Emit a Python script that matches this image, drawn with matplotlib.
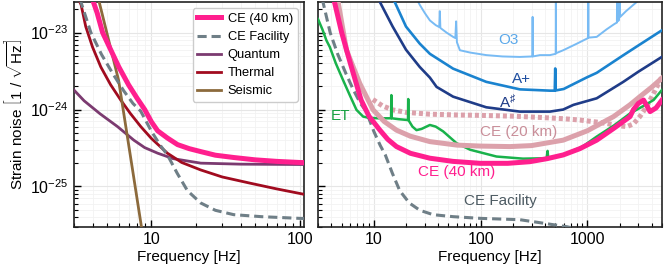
import matplotlib
matplotlib.use("Agg")
import matplotlib.pyplot as plt
import matplotlib.ticker as mticker
import numpy as np

plt.rcParams['font.family'] = ['Liberation Sans', 'DejaVu Sans']
plt.rcParams['mathtext.fontset'] = 'custom'
plt.rcParams['mathtext.rm'] = 'Liberation Sans'
plt.rcParams['mathtext.it'] = 'Liberation Sans:italic'
plt.rcParams['mathtext.bf'] = 'Liberation Sans:bold'
plt.rcParams['font.size'] = 11

# ---------------- Left panel (CE 40 km budget) ----------------
ce40_f = [4.0, 4.3, 4.68, 5.2, 6.02, 7.0, 8.0, 9.0, 10.0, 11.0, 12.8, 15.0, 18.0, 21.5, 27.0, 35.9, 50.0, 70.0, 100.0, 110.0]
ce40_v = [2.7e-23, 1.8e-23, 1.0e-23, 6.5e-24, 3.58e-24, 2.1e-24, 1.4e-24, 1.0e-24, 6.9e-25, 5.3e-25, 4.27e-25, 3.5e-25, 3.1e-25, 2.84e-25, 2.55e-25, 2.38e-25, 2.22e-25, 2.12e-25, 2.05e-25, 2.04e-25]

fac_f = [3.2, 3.34, 3.9, 4.6, 5.5, 6.5, 7.5, 8.47, 10.0, 11.5, 12.8, 14.9, 17.5, 21.5, 27.0, 35.9, 55.3, 100.0, 233.0, 640.0, 1000.0, 2000.0, 5000.0]
fac_v = [3.0e-23, 2.5e-23, 1.0e-23, 5.2e-24, 2.9e-24, 1.75e-24, 1.2e-24, 9.5e-25, 5.2e-25, 3.4e-25, 2.58e-25, 1.49e-25, 8.8e-26, 6.1e-26, 4.9e-26, 4.3e-26, 4.05e-26, 3.85e-26, 3.7e-26, 3.0e-26, 2.6e-26, 2.2e-26, 1.8e-26]

qua_f = [3.0, 3.51, 4.5, 5.9, 7.6, 9.0, 11.0, 14.0, 21.5, 40.0, 100.0, 110.0]
qua_v = [1.79e-24, 1.3e-24, 8.8e-25, 6.0e-25, 4.0e-25, 3.2e-25, 2.71e-25, 2.3e-25, 2.01e-25, 1.95e-25, 1.93e-25, 1.93e-25]

the_f = [3.1, 3.35, 3.6, 4.0, 4.55, 5.3, 6.2, 7.2, 8.47, 10.0, 12.8, 16.0, 21.5, 30.0, 46.7, 70.0, 104.0, 110.0]
the_v = [3.2e-23, 2.3e-23, 1.2e-23, 6.5e-24, 3.58e-24, 2.1e-24, 1.33e-24, 8.9e-25, 6.0e-25, 4.2e-25, 2.71e-25, 2.05e-25, 1.64e-25, 1.33e-25, 1.1e-25, 9.3e-26, 8.0e-26, 7.8e-26]

sei_f = [4.0, 6.0, 9.0]
sei_v = [5.6e-23, 2.4e-24, 1.6e-26]

# ---------------- Right panel (detector comparison) ----------------
ce40r_f = [4.2, 4.31, 5.0, 5.96, 7.6, 9.0, 11.4, 13.5, 16.3, 22.0, 33.5, 55.0, 98.7, 180.0, 289.0, 420.0, 594.0, 850.0, 1223.0, 1800.0, 2510.0, 2700.0, 3000.0, 3360.0, 3866.0, 4400.0, 5000.0]
ce40r_v = [2.8e-23, 2.4e-23, 1.0e-23, 4.2e-24, 1.33e-24, 8.2e-25, 5.4e-25, 4.1e-25, 3.3e-25, 2.7e-25, 2.33e-25, 2.12e-25, 2.0e-25, 2.0e-25, 2.1e-25, 2.3e-25, 2.57e-25, 3.1e-25, 4.0e-25, 5.8e-25, 8.1e-25, 1.0e-24, 1.2e-24, 1.33e-24, 9.4e-25, 1.05e-24, 1.33e-24]

ce20_f = [4.5, 4.63, 5.55, 7.39, 9.85, 12.5, 16.3, 22.0, 33.5, 60.0, 100.0, 188.0, 300.0, 594.0, 1000.0, 1760.0, 2500.0, 3100.0, 4000.0, 5150.0]
ce20_v = [3.0e-23, 2.5e-23, 5.9e-24, 2.18e-24, 9.9e-25, 7.0e-25, 5.4e-25, 4.5e-25, 3.83e-25, 3.45e-25, 3.35e-25, 3.3e-25, 3.4e-25, 4.0e-25, 5.3e-25, 8.1e-25, 1.15e-24, 1.47e-24, 1.95e-24, 2.66e-24]

ce20b_f = [9.8, 12.0, 15.0, 20.0, 33.5, 60.0, 100.0, 200.0, 360.0, 600.0, 853.0, 1200.0, 1510.0, 1900.0, 2340.0, 2700.0, 3100.0, 3600.0, 4170.0, 4980.0]
ce20b_v = [1.35e-24, 1.12e-24, 9.9e-25, 9.2e-25, 8.7e-25, 8.5e-25, 8.4e-25, 8.2e-25, 7.9e-25, 7.6e-25, 7.3e-25, 6.9e-25, 6.6e-25, 6.2e-25, 6.0e-25, 6.5e-25, 8.1e-25, 1.1e-24, 1.62e-24, 2.66e-24]

et_f = [3.0, 3.3, 3.6, 3.87, 4.4, 5.16, 6.0, 6.88, 7.94, 9.0, 11.0, 14.5, 14.6, 14.7, 17.0, 20.9, 21.0, 21.1, 23.0, 25.1, 28.0, 33.5, 38.0, 44.6, 59.6, 80.0, 141.0, 250.0, 415.0, 424.0, 430.0, 600.0, 900.0, 1223.0, 1800.0, 2510.0, 3300.0, 4170.0, 4980.0]
et_v = [1.5e-23, 1.1e-23, 7.9e-24, 6.5e-24, 4.0e-24, 2.4e-24, 1.5e-24, 9.9e-25, 8.1e-25, 7.8e-25, 7.7e-25, 7.7e-25, 1.54e-24, 7.7e-25, 7.5e-25, 7.3e-25, 1.37e-24, 7.3e-25, 6.0e-25, 5.4e-25, 5.6e-25, 6.3e-25, 6.0e-25, 5.2e-25, 3.65e-25, 3.0e-25, 2.45e-25, 2.3e-25, 2.33e-25, 2.9e-25, 2.33e-25, 2.6e-25, 3.3e-25, 4.45e-25, 6.3e-25, 8.9e-25, 1.1e-24, 1.33e-24, 1.79e-24]

aplus_f = [14.5, 15.7, 20.0, 26.9, 33.5, 55.3, 113.0, 233.0, 446.0, 495.0, 500.0, 505.0, 600.0, 984.0, 1223.0, 2170.0, 3000.0, 4980.0]
aplus_v = [2.8e-23, 2.5e-23, 1.2e-23, 7.2e-24, 5.3e-24, 3.4e-24, 2.29e-24, 1.83e-24, 1.76e-24, 1.76e-24, 3.42e-24, 1.77e-24, 1.85e-24, 2.61e-24, 3.0e-24, 5.08e-24, 6.8e-24, 1.07e-23]

asharp_f = [11.0, 11.4, 15.0, 20.0, 26.9, 33.5, 38.7, 55.3, 113.0, 233.0, 446.0, 594.0, 740.0, 1223.0, 2170.0, 3000.0, 4980.0]
asharp_v = [2.8e-23, 2.5e-23, 1.2e-23, 6.0e-24, 3.58e-24, 2.6e-24, 1.97e-24, 1.47e-24, 1.07e-24, 9.4e-25, 9.4e-25, 1.0e-24, 1.15e-24, 1.4e-24, 2.29e-24, 3.1e-24, 4.83e-24]

o3_f = [25.0, 26.9, 30.0, 33.5, 38.0, 41.0, 41.5, 42.0, 48.0, 55.3, 58.0, 59.0, 60.0, 64.0, 80.0, 113.0, 160.0, 233.0, 305.0, 307.0, 309.0, 360.0, 446.0, 505.0, 507.0, 509.0, 594.0, 800.0, 1015.0, 1020.0, 1025.0, 1223.0, 1510.0, 1800.0, 1890.0, 1900.0, 1910.0, 1980.0, 2000.0, 2030.0, 2300.0, 2700.0, 3100.0]
o3_v = [2.8e-23, 2.3e-23, 1.8e-23, 1.44e-23, 1.25e-23, 1.18e-23, 1.9e-23, 1.15e-23, 1.0e-23, 8.8e-24, 8.5e-24, 1.4e-23, 7.5e-24, 5.9e-24, 5.5e-24, 5.1e-24, 4.9e-24, 4.83e-24, 4.9e-24, 1.6e-23, 4.9e-24, 5.1e-24, 5.1e-24, 5.3e-24, 3.0e-23, 5.4e-24, 5.9e-24, 7.2e-24, 8.5e-24, 3.0e-23, 8.6e-24, 8.8e-24, 1.1e-23, 1.3e-23, 1.35e-23, 3.0e-23, 1.4e-23, 1.45e-23, 3.0e-23, 1.6e-23, 1.9e-23, 2.3e-23, 2.7e-23]

# curve labels on the right panel
lab_text = ['O3', 'A+', r'A$^\sharp$', 'ET', 'CE (20 km)', 'CE (40 km)', 'CE Facility']
lab_f = [181, 242, 181, 4.87, 225, 59.6, 152]
lab_v = [7.95e-24, 2.48e-24, 1.26e-24, 8.2e-25, 5.15e-25, 1.56e-25, 6.4e-26]
lab_col = ['#5aa8ea', '#1f4fa0', '#1f3c88', '#15a040', '#c98e99', '#ff1f8e', '#4d5b63']

# colours
C_CE40 = '#ff1f8e'
C_FAC = '#6f7f87'
C_QUA = '#7b3a70'
C_THE = '#a10b1f'
C_SEI = '#8c6a3c'
C_CE20 = '#dca1ab'
C_ET = '#19b24b'
C_AP = '#1a83cf'
C_AS = '#1f3c88'
C_O3 = '#78bbf4'

fig = plt.figure(figsize=(6.65, 2.67), dpi=100)
axL = fig.add_axes([74/665, 1-226.7/267, (304-74)/665, (226.7-2)/267])
axR = fig.add_axes([318/665, 1-226.7/267, (662-318)/665, (226.7-2)/267], sharey=axL)

ylim = (3e-26, 2.5e-23)

# left panel
axL.loglog(ce40_f, ce40_v, color=C_CE40, lw=3.6, label='CE (40 km)', zorder=5)
axL.loglog(fac_f, fac_v, color=C_FAC, lw=2.2, ls=(0, (3, 1.6)), label='CE Facility', zorder=4)
axL.loglog(qua_f, qua_v, color=C_QUA, lw=2.0, label='Quantum', zorder=3)
axL.loglog(the_f, the_v, color=C_THE, lw=2.0, label='Thermal', zorder=3)
axL.loglog(sei_f, sei_v, color=C_SEI, lw=2.0, label='Seismic', zorder=3)
leg = axL.legend(loc='upper right', fontsize=9.3, handlelength=1.85, borderpad=0.35,
                 labelspacing=0.47, handletextpad=0.5, borderaxespad=0.5,
                 framealpha=1, edgecolor='#cccccc')
axL.set_ylabel(r'Strain noise $\left[1\ /\ \sqrt{\mathrm{Hz}}\right]$', fontsize=11, labelpad=3)
axL.set_xlabel('Frequency [Hz]', fontsize=11, labelpad=2)

# right panel
axR.loglog(o3_f, o3_v, color=C_O3, lw=1.4, zorder=2)
axR.loglog(aplus_f, aplus_v, color=C_AP, lw=1.9, zorder=3)
axR.loglog(asharp_f, asharp_v, color=C_AS, lw=1.9, zorder=3)
axR.loglog(fac_f, fac_v, color=C_FAC, lw=2.2, ls=(0, (3, 1.6)), zorder=3)
axR.loglog(ce20b_f, ce20b_v, color=C_CE20, lw=3.6, ls=(0, (0.8, 0.6)), zorder=4)
axR.loglog(et_f, et_v, color=C_ET, lw=1.8, zorder=4)
axR.loglog(ce20_f, ce20_v, color=C_CE20, lw=3.6, zorder=5)
axR.loglog(ce40r_f, ce40r_v, color=C_CE40, lw=3.6, zorder=6)
axR.set_xlabel('Frequency [Hz]', fontsize=11, labelpad=2)
axR.tick_params(labelleft=False)

for t, f, v, c in zip(lab_text, lab_f, lab_v, lab_col):
    axR.text(f, v, t, color=c, fontsize=11, ha='center', va='center', zorder=7)

for ax in (axL, axR):
    ax.grid(True, which='major', color='#e6e6e6', lw=0.8, zorder=0)
    ax.grid(True, which='minor', color='#f2f2f2', lw=0.6, zorder=0)
    ax.set_axisbelow(True)
    ax.tick_params(which='both', direction='in', top=False, right=False)
    ax.tick_params(which='major', length=5, width=1.0, labelsize=11.5, pad=4)
    ax.tick_params(which='minor', length=3, width=0.8)
    for s in ax.spines.values():
        s.set_linewidth(1.2)
        s.set_color('#222222')
    ax.xaxis.set_minor_locator(mticker.LogLocator(base=10, subs=np.arange(2, 10)))
    ax.xaxis.set_minor_formatter(mticker.NullFormatter())
    ax.yaxis.set_minor_locator(mticker.LogLocator(base=10, subs=np.arange(2, 10)))
    ax.yaxis.set_minor_formatter(mticker.NullFormatter())

axL.set_xticks([10, 100])
axL.set_xticklabels(['10', '100'])
axR.set_xticks([10, 100, 1000])
axR.set_xticklabels(['10', '100', '1000'])
axL.set_yticks([1e-25, 1e-24, 1e-23])
axL.set_yticklabels([r'$10^{-25}$', r'$10^{-24}$', r'$10^{-23}$'])
axL.set_ylim(*ylim)
axL.set_xlim(3, 107)
axR.set_xlim(3, 5000)

fig.savefig('out.png', dpi=100)
